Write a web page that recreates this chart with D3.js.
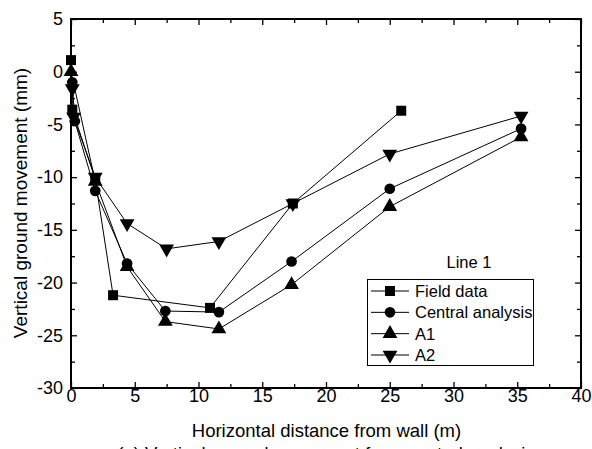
<!DOCTYPE html>
<html>
<head>
<meta charset="utf-8">
<script src="https://cdn.jsdelivr.net/npm/d3@7"></script>
<style>
  html, body { margin: 0; padding: 0; background: #fff; }
  svg { display: block; font-family: "Liberation Sans", Arial, sans-serif; }
</style>
</head>
<body>
<svg id="chart" width="592" height="449"></svg>
<script>
// Vertical ground movement behind the wall: measured vs. computed profiles
const seriesNames = ["Field data", "Central analysis", "A1", "A2"];
const fieldX   = [0, 0.1, 1.9, 3.3, 10.9, 17.4, 25.9];
const fieldY   = [1.1, -3.6, -10.2, -21.2, -22.4, -12.5, -3.7];
const centralX = [0.1, 0.3, 1.9, 4.4, 7.4, 11.6, 17.3, 25.0, 35.3];
const centralY = [-1.0, -4.7, -11.3, -18.2, -22.7, -22.8, -18.0, -11.1, -5.4];
const a1X      = [0, 1.9, 4.4, 7.4, 11.6, 17.3, 25.0, 35.3];
const a1Y      = [0, -10.4, -18.5, -23.7, -24.4, -20.2, -12.8, -6.2];
const a2X      = [0.1, 0.2, 1.9, 4.4, 7.5, 11.6, 17.4, 25.0, 35.3];
const a2Y      = [-1.6, -4.3, -10.0, -14.4, -16.8, -16.1, -12.5, -7.8, -4.2];
const xTicks = [0, 5, 10, 15, 20, 25, 30, 35, 40];
const yTicks = [5, 0, -5, -10, -15, -20, -25, -30];
const xLabel = "Horizontal distance from wall (m)";
const yLabel = "Vertical ground movement (mm)";
const legendTitle = "Line 1";
const caption = "(a) Vertical ground movement from central analysis";

const svg = d3.select("#chart");
const x = d3.scaleLinear().domain([0, 40]).range([71, 581]);
const y = d3.scaleLinear().domain([-30, 5]).range([388, 19]);
// plain hyphen-minus for negative tick values
const fmt = d => String(d);

const symbols = [
  d3.symbol().type(d3.symbolSquare).size(100),
  d3.symbol().type(d3.symbolCircle).size(90),
  d3.symbol().type(d3.symbolTriangle).size(95),
  d3.symbol().type(d3.symbolTriangle).size(95)
];
const rotations = [0, 0, 0, 180];

const series = [
  { xs: fieldX, ys: fieldY },
  { xs: centralX, ys: centralY },
  { xs: a1X, ys: a1Y },
  { xs: a2X, ys: a2Y }
].map((s, i) => ({ name: seriesNames[i], pts: s.xs.map((v, j) => [v, s.ys[j]]), k: i }));

// minor ticks every 2.5 units
const xMinor = d3.range(2.5, 40, 5);
const yMinor = d3.range(-27.5, 5, 5);

function styleAxis(g) {
  g.select(".domain").remove();
  g.selectAll("line").attr("stroke", "#000").attr("stroke-width", 1.3);
}

// bottom axis with labels
const bottom = svg.append("g").attr("transform", `translate(0,${y(-30)})`)
  .call(d3.axisBottom(x).tickValues(xTicks).tickSize(-6).tickPadding(3).tickFormat(fmt));
styleAxis(bottom);
bottom.selectAll("text").attr("font-size", 18).attr("fill", "#000").attr("dy", "0.68em").attr("y", 2);
svg.append("g").attr("transform", `translate(0,${y(-30)})`)
  .call(d3.axisBottom(x).tickValues(xMinor).tickSize(-4).tickFormat("")).call(styleAxis);
// top axis
svg.append("g").attr("transform", `translate(0,${y(5)})`)
  .call(d3.axisTop(x).tickValues(xTicks).tickSize(-6).tickFormat("")).call(styleAxis);
svg.append("g").attr("transform", `translate(0,${y(5)})`)
  .call(d3.axisTop(x).tickValues(xMinor).tickSize(-4).tickFormat("")).call(styleAxis);
// left axis with labels
const left = svg.append("g").attr("transform", `translate(${x(0)},0)`)
  .call(d3.axisLeft(y).tickValues(yTicks).tickSize(-6).tickPadding(10).tickFormat(fmt));
styleAxis(left);
left.selectAll("text").attr("font-size", 18).attr("fill", "#000").attr("x", -8);
svg.append("g").attr("transform", `translate(${x(0)},0)`)
  .call(d3.axisLeft(y).tickValues(yMinor).tickSize(-4).tickFormat("")).call(styleAxis);
// right axis
svg.append("g").attr("transform", `translate(${x(40)},0)`)
  .call(d3.axisRight(y).tickValues(yTicks).tickSize(-6).tickFormat("")).call(styleAxis);
svg.append("g").attr("transform", `translate(${x(40)},0)`)
  .call(d3.axisRight(y).tickValues(yMinor).tickSize(-4).tickFormat("")).call(styleAxis);

// frame
svg.append("rect")
  .attr("x", x(0)).attr("y", y(5))
  .attr("width", x(40) - x(0)).attr("height", y(-30) - y(5))
  .attr("fill", "none").attr("stroke", "#000").attr("stroke-width", 2);

// series lines and markers
const line = d3.line().x(d => x(d[0])).y(d => y(d[1]));
const sg = svg.append("g");
series.forEach(s => {
  sg.append("path").attr("d", line(s.pts))
    .attr("fill", "none").attr("stroke", "#000").attr("stroke-width", 1);
});
series.forEach(s => {
  sg.selectAll(null).data(s.pts).join("path")
    .attr("d", symbols[s.k])
    .attr("transform", d => `translate(${x(d[0])},${y(d[1])}) rotate(${rotations[s.k]})`)
    .attr("fill", "#000");
});

// legend
svg.append("text").attr("x", 469).attr("y", 268).attr("text-anchor", "middle")
  .attr("font-size", 16.5).attr("fill", "#000").text(legendTitle);
svg.append("rect").attr("x", 367.5).attr("y", 279.5).attr("width", 166).attr("height", 86)
  .attr("fill", "#fff").attr("stroke", "#000").attr("stroke-width", 1);
const rowY = d3.scalePoint().domain(seriesNames).range([291, 355]);
const lg = svg.append("g").selectAll("g").data(series).join("g")
  .attr("transform", d => `translate(0,${rowY(d.name)})`);
lg.append("line").attr("x1", 371).attr("x2", 409).attr("stroke", "#000").attr("stroke-width", 1);
lg.append("path").attr("d", d => symbols[d.k]())
  .attr("transform", d => `translate(390,0) rotate(${rotations[d.k]})`).attr("fill", "#000");
lg.append("text").attr("x", 415).attr("y", 6).attr("font-size", 16.5).attr("fill", "#000")
  .text(d => d.name);

// axis titles
svg.append("text").attr("x", 326.5).attr("y", 437).attr("text-anchor", "middle")
  .attr("font-size", 18.5).attr("fill", "#000").text(xLabel);
svg.append("text").attr("transform", `translate(27,203) rotate(-90)`).attr("text-anchor", "middle")
  .attr("font-size", 19).attr("fill", "#000").text(yLabel);

// figure caption (runs past the lower edge)
svg.append("text").attr("x", 326).attr("y", 460).attr("text-anchor", "middle")
  .attr("font-size", 18.5).attr("fill", "#000").text(caption);
</script>
</body>
</html>
